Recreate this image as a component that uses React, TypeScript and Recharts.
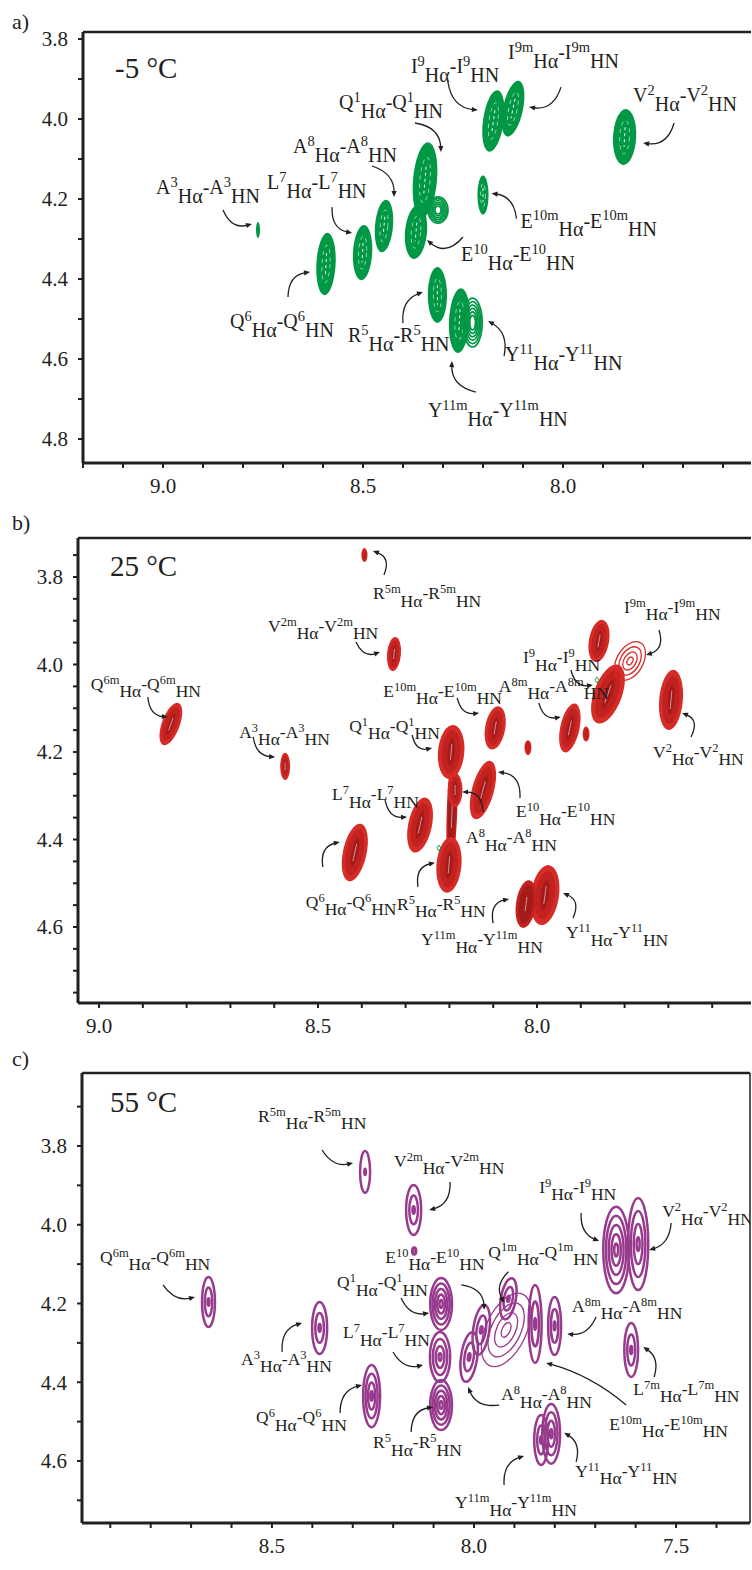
import { ReferenceLine, Scatter, ScatterChart, XAxis, YAxis } from "recharts";

const SERIF = "Liberation Serif, Tinos, Times New Roman, DejaVu Serif, serif";
const INK = "#231f20";
const X_AXIS_HEIGHT = 47;

const GREEN = "#009845";
const RED = "#d62c28";
const RED_MID = "#c2221f";
const RED_DARK = "#a41b1a";
const PURPLE = "#983a8d";

// ---- a) -5 °C ----
const A_NAMES = ["A3", "Q6", "L7", "A8", "Q1", "E10", "", "E10m", "I9", "I9m", "V2", "R5", "Y11m", "Y11"];
const A_HN = [8.7625, 8.5925, 8.501, 8.4475, 8.345, 8.3675, 8.3125, 8.2, 8.174, 8.125, 7.846, 8.314, 8.259, 8.226];
const A_HA = [4.2775, 4.3625, 4.334, 4.2675, 4.1525, 4.2825, 4.2275, 4.19, 4.005, 3.974, 4.045, 4.44, 4.504, 4.509];
const A_HN_WIDTH = [0.005, 0.024, 0.024, 0.0225, 0.03, 0.0275, 0.025, 0.014, 0.026, 0.025, 0.029, 0.024, 0.026, 0.024];
const A_HA_WIDTH = [0.02, 0.078, 0.069, 0.066, 0.095, 0.0675, 0.033, 0.049, 0.0775, 0.071, 0.07, 0.07, 0.081, 0.061];
const A_KIND = ["fill", "fill", "fill", "fill", "fill", "fill", "ring", "fill", "fill", "fill", "fill", "fill", "fill", "ring"];
const A_TILT = [0, 3, 3, 5, 5, 5, 0, 0, 8, 12, 3, 0, 3, 0];
// label dx, dy, arrow tail dx, dy, arrow head dx, dy, sag (px from the peak centre)
const A_NOTES = [
  [-102, -36, -35, -20, -6, -6, 7],
  [-96, 64, -38, 33, -16, 8, -7],
  [-95.5, -63.5, -30.5, -45.5, -10.5, -19.5, 7],
  [-91, -73, -12, -60, 10, -29, -7],
  [-86, -71, -10, -57, 16, -28, -8],
  [45, 29, 47, 5, 11, 8, -9],
  null,
  [37.5, 32.5, 33.5, 23.5, 8.5, -1.5, 7],
  [-82.5, -48, -45.5, -39, -15.5, -11, 8],
  [-5, -49.5, 48, -21.5, 16, -1.5, -8],
  [8.5, -35, 49.5, -14, 18.5, 6, -8],
  [-89.5, 47, -34.5, 28, -14.5, -3, -7],
  [-31.5, 96.5, 16.5, 71.5, -7.5, 40.5, -8],
  [32.5, 38.5, 31.5, 33.5, 15.5, -1.5, 7],
];
const A_X_TICKS = [9.2, 9.1, 9.0, 8.9, 8.8, 8.7, 8.6, 8.5, 8.4, 8.3, 8.2, 8.1, 8.0, 7.9, 7.8, 7.7, 7.6];
const A_X_LABELS = [9.0, 8.5, 8.0];
const A_Y_TICKS = [3.8, 3.9, 4.0, 4.1, 4.2, 4.3, 4.4, 4.5, 4.6, 4.7, 4.8];
const A_Y_LABELS = [3.8, 4.0, 4.2, 4.4, 4.6, 4.8];

// ---- b) 25 °C ----
const B_NAMES = ["", "Q6m", "A3", "Q6", "R5m", "V2m", "L7", "Q1", "A8", "R5", "E10m", "E10", "A8m", "", "I9", "I9m", "V2", "Y11", "Y11m", "", ""];
const B_HN = [8.194, 8.836, 8.575, 8.416, 8.394, 8.3265, 8.267, 8.196, 8.187, 8.201, 8.0955, 8.1234, 7.925, 7.8585, 7.838, 7.7877, 7.694, 7.9818, 8.025, 8.0206, 7.888];
const B_HA = [4.3326, 4.136, 4.233, 4.4297, 3.75, 3.976, 4.367, 4.2, 4.287, 4.458, 4.145, 4.287, 4.145, 3.9463, 4.0675, 3.992, 4.081, 4.527, 4.5475, 4.19, 4.159];
const B_HN_WIDTH = [0.012, 0.0205, 0.0114, 0.027, 0.007, 0.016, 0.027, 0.03, 0.017, 0.0285, 0.023, 0.025, 0.022, 0.023, 0.032, 0.03, 0.027, 0.032, 0.023, 0.008, 0.008];
const B_HA_WIDTH = [0.14, 0.051, 0.031, 0.067, 0.016, 0.039, 0.064, 0.062, 0.039, 0.064, 0.05, 0.069, 0.057, 0.049, 0.071, 0.048, 0.069, 0.069, 0.055, 0.017, 0.017];
const B_KIND = ["dark", "fill", "fill", "fill", "fill", "fill", "fill", "fill", "fill", "fill", "fill", "fill", "fill", "fill", "fill", "ring", "fill", "fill", "dark", "fill", "fill"];
const B_TILT = [2, 20, 0, 12, 0, 5, 12, 5, 0, 5, 10, 15, 12, 10, 20, 30, 5, 8, 8, 0, 0];
const B_NOTES = [
  null,
  [-80, -34, -23, -27, -3, -7, 6],
  [-46, -28.5, -32, -29.5, -10, -9.5, 6],
  [-49, 55.5, -32, 14.5, -15, -10.5, -7],
  [8.5, 44, 19.5, 20, 8.5, -4, 7],
  [-126, -22, -38, -12, -14, -2, 6],
  [-88, -25, -35, -25, -13, -8, 6],
  [-102, -20, -39, -17, -19, -4, 6],
  [11, 53, 28, 22, 7, 2, 7],
  [-52, 45, -31, 22, -14, -2, -7],
  [-112, -31, -38, -30, -16, -15, 6],
  [33, 27, 37, 8, 15, -18, 8],
  [-71, -36, -31, -25, -9, -11, 6],
  null,
  [-85, -31, -37, -24, -15, -9, 6],
  [-6, -48, 29, -31, 16, -6, -7],
  [-18, 58, 20, 37, 11, 13, 7],
  [21, 43, 28, 23, 18, -2, 7],
  [-105, 41, -33, 19, -17, -5, -7],
  null,
  null,
];
// faint cross peaks left over from the cold spectrum
const B_TRACE_HN = [7.863, 8.2238];
const B_TRACE_HA = [4.0355, 4.4195];
const B_X_TICKS = [9.0, 8.9, 8.8, 8.7, 8.6, 8.5, 8.4, 8.3, 8.2, 8.1, 8.0, 7.9, 7.8, 7.7, 7.6];
const B_X_LABELS = [9.0, 8.5, 8.0];
const B_Y_TICKS = [3.75, 3.8, 3.85, 3.9, 3.95, 4.0, 4.05, 4.1, 4.15, 4.2, 4.25, 4.3, 4.35, 4.4, 4.45, 4.5, 4.55, 4.6, 4.65, 4.7, 4.75];
const B_Y_LABELS = [3.8, 4.0, 4.2, 4.4, 4.6];

// ---- c) 55 °C ----
const C_NAMES = ["R5m", "Q6m", "A3", "Q6", "V2m", "", "Q1", "L7", "R5", "", "A8", "E10", "Q1m", "E10m", "A8m", "I9", "V2", "L7m", "Y11m", "Y11"];
const C_HN = [8.2695, 8.657, 8.382, 8.2534, 8.1494, 8.148, 8.0814, 8.084, 8.0814, 7.9205, 8.012, 7.982, 7.915, 7.8487, 7.8005, 7.6482, 7.5938, 7.611, 7.8339, 7.809];
const C_HA = [3.866, 4.196, 4.262, 4.435, 3.9625, 4.0667, 4.2013, 4.336, 4.458, 4.267, 4.336, 4.267, 4.188, 4.252, 4.257, 4.064, 4.049, 4.318, 4.5467, 4.531];
const C_HN_WIDTH = [0.0124, 0.016, 0.0186, 0.021, 0.0186, 0.005, 0.027, 0.025, 0.027, 0.05, 0.02, 0.02, 0.0186, 0.016, 0.016, 0.032, 0.025, 0.017, 0.017, 0.022];
const C_HA_WIDTH = [0.053, 0.0635, 0.066, 0.079, 0.0635, 0.009, 0.066, 0.0635, 0.0635, 0.1, 0.0635, 0.0635, 0.053, 0.099, 0.0737, 0.11, 0.117, 0.0686, 0.0635, 0.076];
const C_KIND = ["fill", "fill", "fill", "fill", "fill", "fill", "fill", "fill", "fill", "ring", "fill", "fill", "fill", "fill", "fill", "fill", "fill", "fill", "fill", "fill"];
const C_TILT = [0, 0, 0, 0, 0, 0, 0, 0, 0, 25, 8, 8, 10, 0, 0, 0, 0, 0, 0, 0];
const C_NOTES = [
  [-107, -50, -43, -22, -12, -9, 6],
  [-108.5, -39, -45.5, -17, -13.5, -5, 6],
  [-78.5, 37, -37.5, 24, -17.5, -5, -7],
  [-115.5, 27, -31.5, 17, -9.5, -11, -7],
  [-19.5, -43, 36.5, -28, 15.5, 0, -7],
  null,
  [-104, -16, -40, -6, -12, 9, 6],
  [-97, -19, -47, -5, -17, 8, 6],
  [-68, 43, -30, 27, -8, 2, -7],
  null,
  [32, 43, 30, 48, -1, 30, -7],
  [-96, -67, -20, -45, 3, -20, -7],
  [-20, -41, 0, -27, -4, 4, 6],
  [74, 106, 91, 81, 11, 39, 5],
  [17.5, -14, 41.5, -9, 12.5, 8, -6],
  [-77, -57, -35, -37, -17, -9, 6],
  [24, -27, 33, -21, 11, 6, -6],
  [2, 45, 23, 27, 12, -3, 6],
  [-86, 68, -37, 45, -17, 16, -7],
  [24, 43, 25, 28, 13, -1, 6],
];
const C_X_TICKS = [8.9, 8.8, 8.7, 8.6, 8.5, 8.4, 8.3, 8.2, 8.1, 8.0, 7.9, 7.8, 7.7, 7.6, 7.5, 7.4];
const C_X_LABELS = [8.5, 8.0, 7.5];
const C_Y_TICKS = [3.7, 3.8, 3.9, 4.0, 4.1, 4.2, 4.3, 4.4, 4.5, 4.6, 4.7];
const C_Y_LABELS = [3.8, 4.0, 4.2, 4.4, 4.6];

const PANELS = [
  {
    look: "green", top: 0, height: 510, marginTop: 32, marginRight: 1, yAxisWidth: 83,
    xDomain: [7.53, 9.2], yDomain: [3.7825, 4.86], labelSize: 20, supSize: 14.5,
    xTicks: A_X_TICKS, xLabels: A_X_LABELS, yTicks: A_Y_TICKS, yLabels: A_Y_LABELS,
    names: A_NAMES, hn: A_HN, ha: A_HA, hnWidth: A_HN_WIDTH, haWidth: A_HA_WIDTH,
    kind: A_KIND, tilt: A_TILT, notes: A_NOTES, frameRight: false,
  },
  {
    look: "red", top: 506, height: 544, marginTop: 32, marginRight: 1, yAxisWidth: 78,
    xDomain: [7.5114, 9.048], yDomain: [3.7109, 4.7737], labelSize: 17.5, supSize: 12.5,
    xTicks: B_X_TICKS, xLabels: B_X_LABELS, yTicks: B_Y_TICKS, yLabels: B_Y_LABELS,
    names: B_NAMES, hn: B_HN, ha: B_HA, hnWidth: B_HN_WIDTH, haWidth: B_HA_WIDTH,
    kind: B_KIND, tilt: B_TILT, notes: B_NOTES, frameRight: false,
    traceHn: B_TRACE_HN, traceHa: B_TRACE_HA,
  },
  {
    look: "purple", top: 1041, height: 529, marginTop: 32, marginRight: 2, yAxisWidth: 82,
    xDomain: [7.317, 8.97], yDomain: [3.6146, 4.7575], labelSize: 17.5, supSize: 12.5,
    xTicks: C_X_TICKS, xLabels: C_X_LABELS, yTicks: C_Y_TICKS, yLabels: C_Y_LABELS,
    names: C_NAMES, hn: C_HN, ha: C_HA, hnWidth: C_HN_WIDTH, haWidth: C_HA_WIDTH,
    kind: C_KIND, tilt: C_TILT, notes: C_NOTES, frameRight: true,
  },
];

function Rings({ cx, cy, rx, ry, n, color, width, inner = 0.2 }: any) {
  return (
    <>
      {Array.from({ length: n }, (_, k) => {
        const s = 1 - (k * (1 - inner)) / Math.max(1, n - 1);
        return (
          <ellipse key={k} cx={cx} cy={cy} rx={Math.max(0.6, rx * s)} ry={Math.max(0.8, ry * s)}
            fill="none" stroke={color} strokeWidth={width} />
        );
      })}
    </>
  );
}

function PeakGlyph({ cx, cy, rx, ry, tilt, kind, look }: any) {
  const rot = `rotate(${tilt} ${cx} ${cy})`;
  const color = look === "green" ? GREEN : look === "red" ? RED : PURPLE;
  if (kind === "ring") {
    const dense = look === "green";
    return (
      <g transform={rot}>
        <Rings cx={cx} cy={cy} rx={rx} ry={ry} n={dense ? 6 : 4} color={color}
          width={dense ? 1.7 : 1.3} inner={dense ? 0.3 : 0.2} />
      </g>
    );
  }
  if (look === "green") {
    return (
      <g transform={rot}>
        <ellipse cx={cx} cy={cy} rx={rx} ry={ry} fill={GREEN} />
        {rx > 4 && (
          <>
            <ellipse cx={cx} cy={cy} rx={rx * 0.42} ry={ry * 0.6} fill="none" stroke="#fff"
              strokeWidth={0.7} strokeDasharray="4 4" opacity={0.8} />
            <line x1={cx} y1={cy - ry * 0.35} x2={cx} y2={cy + ry * 0.35} stroke="#fff"
              strokeWidth={0.9} strokeDasharray="3 3" />
          </>
        )}
      </g>
    );
  }
  if (look === "red") {
    const dark = kind === "dark";
    return (
      <g transform={rot}>
        <ellipse cx={cx} cy={cy} rx={rx} ry={ry} fill={dark ? RED_MID : RED} />
        <ellipse cx={cx} cy={cy} rx={rx * 0.7} ry={ry * 0.8} fill={dark ? RED_DARK : RED_MID} />
        {rx > 4 && (
          <>
            <ellipse cx={cx} cy={cy} rx={rx * 0.28} ry={ry * 0.5} fill={RED_DARK} />
            <line x1={cx} y1={cy - ry * 0.3} x2={cx} y2={cy + ry * 0.3} stroke="#fff"
              strokeWidth={0.7} opacity={0.7} />
          </>
        )}
      </g>
    );
  }
  const n = Math.max(2, Math.min(7, Math.round(rx / 2.4)));
  return (
    <g transform={rot}>
      <Rings cx={cx} cy={cy} rx={rx} ry={ry} n={n} color={PURPLE} width={2.5} inner={0.15} />
    </g>
  );
}

// residue + index, then Hα-residue + index, HN, with super/subscripts
function Assignment({ x, y, name, size, sup }: any) {
  const res = name[0];
  const idx = name.slice(1);
  const up = Math.round(size * 0.36 * 10) / 10;
  const down = Math.round(size * 0.43 * 10) / 10;
  return (
    <text x={x} y={y} fill={INK} style={{ fontFamily: SERIF, fontSize: size }}>
      <tspan>{res}</tspan>
      <tspan dy={-up} style={{ fontSize: sup }}>{idx}</tspan>
      <tspan dy={up + down}>Hα</tspan>
      <tspan dy={-down}>-{res}</tspan>
      <tspan dy={-up} style={{ fontSize: sup }}>{idx}</tspan>
      <tspan dy={up + down}>HN</tspan>
    </text>
  );
}

function Note({ cx, cy, name, layout, size, sup }: any) {
  if (!layout || !name) return <g />;
  const [lx, ly, fx, fy, tx, ty, sag] = layout;
  const x1 = cx + fx, y1 = cy + fy, x2 = cx + tx, y2 = cy + ty;
  const dx = x2 - x1, dy = y2 - y1;
  const len = Math.hypot(dx, dy) || 1;
  const qx = (x1 + x2) / 2 - (dy / len) * sag * 2;
  const qy = (y1 + y2) / 2 + (dx / len) * sag * 2;
  const ex = x2 - qx, ey = y2 - qy;
  const el = Math.hypot(ex, ey) || 1;
  const ux = ex / el, uy = ey / el;
  const bx = x2 - ux * 6, by = y2 - uy * 6;
  const head = `M${x2},${y2} L${bx - uy * 2.6},${by + ux * 2.6} L${bx + uy * 2.6},${by - ux * 2.6} Z`;
  return (
    <g>
      <path d={`M${x1},${y1} Q${qx},${qy} ${bx + ux * 1.5},${by + uy * 1.5}`} fill="none" stroke={INK} strokeWidth={1.3} />
      <path d={head} fill={INK} />
      <Assignment x={cx + lx} y={cy + ly} name={name} size={size} sup={sup} />
    </g>
  );
}

function Panel({ cfg }: any) {
  const data = cfg.names.map((name: string, i: number) => ({ name, hn: cfg.hn[i], ha: cfg.ha[i], i }));
  const plotW = 752 - cfg.yAxisWidth - cfg.marginRight;
  const plotH = cfg.height - cfg.marginTop - X_AXIS_HEIGHT;
  const pxX = plotW / (cfg.xDomain[1] - cfg.xDomain[0]);
  const pxY = plotH / (cfg.yDomain[1] - cfg.yDomain[0]);
  const traces = cfg.traceHn
    ? cfg.traceHn.map((hn: number, i: number) => ({ hn, ha: cfg.traceHa[i] }))
    : [];
  const tickStyle = { fill: INK, fontSize: 21, fontFamily: SERIF, style: { fontFamily: SERIF } };

  return (
    <div style={{ position: "absolute", left: 0, top: cfg.top }}>
      <ScatterChart width={752} height={cfg.height} style={{ fontFamily: SERIF }}
        margin={{ top: cfg.marginTop, right: cfg.marginRight, bottom: 0, left: 0 }}>
        <XAxis type="number" dataKey="hn" domain={cfg.xDomain} reversed allowDataOverflow
          ticks={cfg.xTicks} interval={0} height={X_AXIS_HEIGHT} tickSize={5} tickMargin={10}
          tickFormatter={(v: number) => (cfg.xLabels.includes(v) ? v.toFixed(1) : "")}
          axisLine={{ stroke: INK, strokeWidth: 3 }} tickLine={{ stroke: INK, strokeWidth: 2 }} tick={tickStyle} />
        <YAxis type="number" dataKey="ha" domain={cfg.yDomain} reversed allowDataOverflow
          ticks={cfg.yTicks} interval={0} width={cfg.yAxisWidth} tickSize={5} tickMargin={10}
          tickFormatter={(v: number) => (cfg.yLabels.includes(v) ? v.toFixed(1) : "")}
          axisLine={{ stroke: INK, strokeWidth: 3 }} tickLine={{ stroke: INK, strokeWidth: 2 }} tick={tickStyle} />
        <ReferenceLine y={cfg.yDomain[0]} stroke={INK} strokeWidth={2.5} />
        {cfg.frameRight && <ReferenceLine x={cfg.xDomain[0]} stroke={INK} strokeWidth={1.5} />}
        <Scatter data={data} isAnimationActive={false}
          shape={(p: any) => (
            <PeakGlyph cx={p.cx} cy={p.cy}
              rx={cfg.hnWidth[p.payload.i] * pxX} ry={cfg.haWidth[p.payload.i] * pxY}
              tilt={cfg.tilt[p.payload.i]} kind={cfg.kind[p.payload.i]} look={cfg.look} />
          )} />
        {traces.length > 0 && (
          <Scatter data={traces} isAnimationActive={false}
            shape={(p: any) => (
              <path d={`M${p.cx},${p.cy - 3} L${p.cx + 2},${p.cy} L${p.cx},${p.cy + 3} L${p.cx - 2},${p.cy} Z`}
                fill="none" stroke={GREEN} strokeWidth={0.9} />
            )} />
        )}
        <Scatter data={data} isAnimationActive={false}
          shape={(p: any) => (
            <Note cx={p.cx} cy={p.cy} name={p.payload.name} layout={cfg.notes[p.payload.i]}
              size={cfg.labelSize} sup={cfg.supSize} />
          )} />
      </ScatterChart>
    </div>
  );
}

export default function App() {
  return (
    <div style={{ position: "absolute", left: 0, top: 0, width: 752, height: 1570, background: "#fff", overflow: "hidden", fontFamily: SERIF }}>
      {PANELS.map((cfg, k) => (
        <Panel key={k} cfg={cfg} />
      ))}
      <svg width={752} height={1570} style={{ position: "absolute", left: 0, top: 0, pointerEvents: "none", fontFamily: SERIF }}>
        <g fill={INK}>
          <text x={12} y={29} style={{ fontSize: 22 }}>a)</text>
          <text x={115} y={78} style={{ fontSize: 29 }}>-5 °C</text>
          <text x={12} y={530} style={{ fontSize: 22 }}>b)</text>
          <text x={110} y={576} style={{ fontSize: 29 }}>25 °C</text>
          <text x={12} y={1066} style={{ fontSize: 22 }}>c)</text>
          <text x={110} y={1112} style={{ fontSize: 29 }}>55 °C</text>
        </g>
      </svg>
    </div>
  );
}
